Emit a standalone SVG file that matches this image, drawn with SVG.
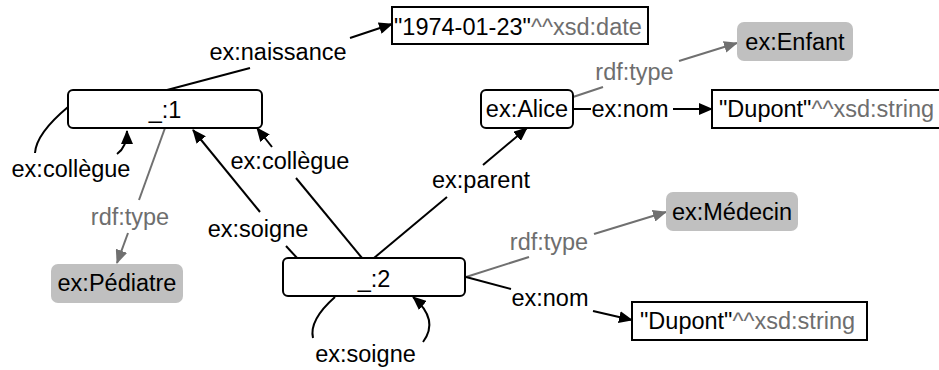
<svg xmlns="http://www.w3.org/2000/svg" width="939" height="370" viewBox="0 0 939 370">
<defs>
<style>
text{font-family:"Liberation Sans",Arial,sans-serif;font-size:23.5px;fill:#000}
.g{fill:#6e6e6e}
.mid{text-anchor:middle}
.res{fill:#fff;stroke:#000;stroke-width:2}
.lit{fill:#fff;stroke:#000;stroke-width:2}
.cls{fill:#c0c0c0;stroke:none}
.e{fill:none;stroke:#000;stroke-width:2}
.eg{fill:none;stroke:#707070;stroke-width:2}
</style>
<marker id="ab" markerUnits="userSpaceOnUse" markerWidth="14" markerHeight="12" refX="13" refY="6" orient="auto"><path d="M0,0 L14,6 L0,12 z" fill="#000"/></marker>
<marker id="ag" markerUnits="userSpaceOnUse" markerWidth="14" markerHeight="12" refX="13" refY="6" orient="auto"><path d="M0,0 L14,6 L0,12 z" fill="#707070"/></marker>
</defs>
<rect width="939" height="370" fill="#fff"/>
<g id="connectors">
<!-- ex:naissance -->
<path class="e" d="M167,90 L250,68"/>
<path class="e" d="M350,38 L392,24" marker-end="url(#ab)"/>
<text class="mid" x="278" y="60">ex:naissance</text>
<!-- ex:collègue loop on _:1 -->
<path class="e" d="M68,107 C50,122 36,138 35,153"/>
<path class="e" d="M117,154 C124,149 127,142 127,131" marker-end="url(#ab)"/>
<text class="mid" x="71" y="177">ex:collègue</text>
<!-- rdf:type _:1 -> Pédiatre -->
<path class="eg" d="M165,128 L139,200"/>
<path class="eg" d="M128,233 L117,263" marker-end="url(#ag)"/>
<text class="mid g" x="130" y="225">rdf:type</text>
<!-- ex:soigne _:2 -> _:1 -->
<path class="e" d="M260,212 L193,130" marker-end="url(#ab)"/>
<path class="e" d="M286,246 L298,259"/>
<text class="mid" x="258" y="237">ex:soigne</text>
<!-- ex:collègue _:2 -> _:1 -->
<path class="e" d="M272,147 L257,128" marker-end="url(#ab)"/>
<path class="e" d="M296,178 L362,258"/>
<text class="mid" x="290" y="169">ex:collègue</text>
<!-- ex:parent -->
<path class="e" d="M374,258 L447,197"/>
<path class="e" d="M483,165 L527,128" marker-end="url(#ab)"/>
<text class="mid" x="481" y="188">ex:parent</text>
<!-- ex:nom Alice -->
<path class="e" d="M573,109 L591,109"/>
<path class="e" d="M673,109 L712,109" marker-end="url(#ab)"/>
<text class="mid" x="630" y="117">ex:nom</text>
<!-- rdf:type Alice -> Enfant -->
<path class="eg" d="M573,97 L603,87"/>
<path class="eg" d="M679,61 L737,43" marker-end="url(#ag)"/>
<text class="mid g" x="634.5" y="80">rdf:type</text>
<!-- rdf:type _:2 -> Médecin -->
<path class="eg" d="M466,277 L529,257"/>
<path class="eg" d="M594,234 L666,212" marker-end="url(#ag)"/>
<text class="mid g" x="549" y="250">rdf:type</text>
<!-- ex:nom _:2 -> Dupont -->
<path class="e" d="M466,277 L511,289"/>
<path class="e" d="M593,311 L632,320" marker-end="url(#ab)"/>
<text class="mid" x="550" y="306">ex:nom</text>
<!-- ex:soigne loop on _:2 -->
<path class="e" d="M335,297 C318,312 310,325 313,338"/>
<path class="e" d="M423,342 C432,330 434,315 413,297" marker-end="url(#ab)"/>
<text class="mid" x="365.5" y="362">ex:soigne</text>
</g>
<g id="n1"><rect class="res" x="68" y="90" width="194" height="38" rx="5"/><text class="mid" x="165" y="118">_:1</text></g>
<g id="n2"><rect class="res" x="283" y="258" width="182" height="38" rx="5"/><text class="mid" x="374" y="287">_:2</text></g>
<g id="alice"><rect class="res" x="481" y="90" width="92" height="38" rx="5"/><text class="mid" x="527" y="117">ex:Alice</text></g>
<g id="date"><rect class="lit" x="392" y="7" width="256" height="37"/><text x="394" y="35">"1974-01-23"<tspan class="g">^^xsd:date</tspan></text></g>
<g id="dupont1"><rect class="lit" x="712" y="90" width="236" height="38"/><text x="719" y="117">"Dupont"<tspan class="g">^^xsd:string</tspan></text></g>
<g id="dupont2"><rect class="lit" x="632" y="302" width="235" height="38"/><text x="640" y="329">"Dupont"<tspan class="g">^^xsd:string</tspan></text></g>
<g id="enfant"><rect class="cls" x="737" y="22" width="116" height="39" rx="7"/><text class="mid" x="795" y="50">ex:Enfant</text></g>
<g id="medecin"><rect class="cls" x="666" y="192" width="132" height="39" rx="7"/><text class="mid" x="732" y="220">ex:Médecin</text></g>
<g id="pediatre"><rect class="cls" x="51" y="264" width="132" height="39" rx="7"/><text class="mid" x="117" y="291">ex:Pédiatre</text></g>
</svg>
